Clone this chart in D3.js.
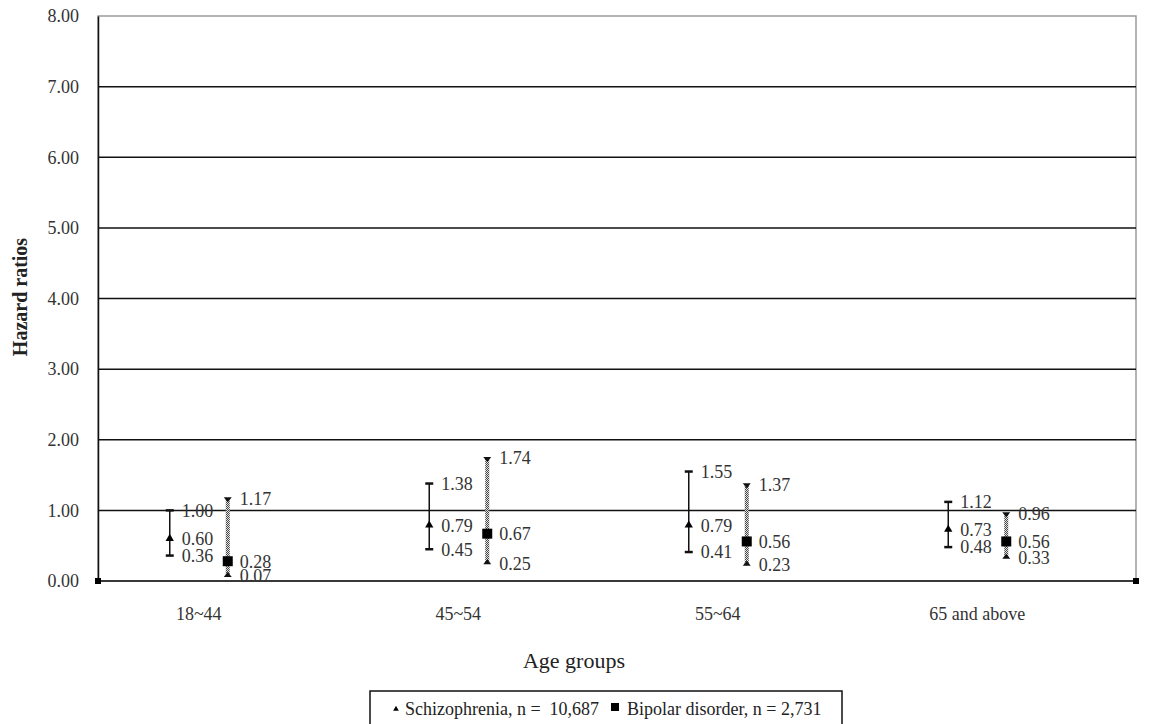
<!DOCTYPE html>
<html>
<head>
<meta charset="utf-8">
<script src="https://d3js.org/d3.v7.min.js"></script>
<style>
  body { margin: 0; background: #fff; }
  text { font-family: "Liberation Serif", "Times New Roman", serif; }
</style>
</head>
<body>
<div id="chart"></div>
<script>
var ageGroups = ['18~44', '45~54', '55~64', '65 and above'];
var schizoHR = [0.60, 0.79, 0.79, 0.73];
var schizoLow = [0.36, 0.45, 0.41, 0.48];
var schizoHigh = [1.00, 1.38, 1.55, 1.12];
var bipolarHR = [0.28, 0.67, 0.56, 0.56];
var bipolarLow = [0.07, 0.25, 0.23, 0.33];
var bipolarHigh = [1.17, 1.74, 1.37, 0.96];
var yTicks = [0, 1, 2, 3, 4, 5, 6, 7, 8];
var legendLabels = ['Schizophrenia, n =  10,687', 'Bipolar disorder, n = 2,731'];

var width = 1149;
var height = 724;
var plotL = 98, plotR = 1136, plotT = 16, plotB = 581;

var svg = d3.select('#chart')
  .append('svg')
  .attr('width', width)
  .attr('height', height);

var defs = svg.append('defs');
var pat = defs.append('pattern')
  .attr('id', 'checker')
  .attr('width', 2).attr('height', 2)
  .attr('patternUnits', 'userSpaceOnUse');
pat.append('rect').attr('width', 2).attr('height', 2).attr('fill', '#e4e4e4');
pat.append('rect').attr('width', 1).attr('height', 1).attr('fill', '#444');
pat.append('rect').attr('x', 1).attr('y', 1).attr('width', 1).attr('height', 1).attr('fill', '#444');

var x = d3.scaleBand()
  .domain(ageGroups)
  .range([plotL, plotR]);

var y = d3.scaleLinear()
  .domain([0, 8])
  .range([plotB, plotT]);

// offsets from band centre (the excel chart is shifted left)
var schizoOff = -58, bipolarOff = 0, labelOff = -29;
function cx(d) { return x(d) + x.bandwidth() / 2; }

// frame
svg.append('rect')
  .attr('x', plotL).attr('y', plotT)
  .attr('width', plotR - plotL).attr('height', plotB - plotT)
  .attr('fill', 'none')
  .attr('stroke', '#9a9a9a')
  .attr('stroke-width', 1.5);

// gridlines
svg.append('g')
  .selectAll('line')
  .data(yTicks.filter(function(t) { return t > 0 && t < 8; }))
  .enter()
  .append('line')
  .attr('x1', plotL).attr('x2', plotR)
  .attr('y1', function(d) { return y(d); })
  .attr('y2', function(d) { return y(d); })
  .attr('stroke', '#111')
  .attr('stroke-width', 1.5);

// y axis
var yAxis = d3.axisLeft(y)
  .tickValues(yTicks)
  .tickSize(0)
  .tickPadding(19)
  .tickFormat(d3.format('.2f'));

var gy = svg.append('g')
  .attr('transform', 'translate(' + plotL + ',0)')
  .call(yAxis);
gy.select('.domain').attr('stroke', '#111').attr('stroke-width', 1.5);
gy.selectAll('text')
  .attr('font-size', 18)
  .attr('font-family', '"Liberation Serif", serif')
  .attr('fill', '#333');

// x axis line
svg.append('line')
  .attr('x1', plotL).attr('x2', plotR)
  .attr('y1', y(0)).attr('y2', y(0))
  .attr('stroke', '#111')
  .attr('stroke-width', 1.5);

svg.selectAll('.corner')
  .data([plotL, plotR])
  .enter()
  .append('rect')
  .attr('x', function(d) { return d - 3; })
  .attr('y', y(0) - 3)
  .attr('width', 6).attr('height', 6)
  .attr('fill', '#000');

// x labels
svg.append('g')
  .selectAll('text')
  .data(ageGroups)
  .enter()
  .append('text')
  .attr('x', function(d) { return cx(d) + labelOff; })
  .attr('y', 620)
  .attr('text-anchor', 'middle')
  .attr('font-size', 18)
  .attr('fill', '#333')
  .text(function(d) { return d; });

// axis titles
svg.append('text')
  .attr('transform', 'translate(27,297) rotate(-90)')
  .attr('text-anchor', 'middle')
  .attr('font-size', 20)
  .attr('font-weight', 'bold')
  .attr('fill', '#222')
  .text('Hazard ratios');

svg.append('text')
  .attr('x', 574).attr('y', 668)
  .attr('text-anchor', 'middle')
  .attr('font-size', 22)
  .attr('fill', '#222')
  .text('Age groups');

// schizophrenia error bars
var sz = svg.append('g');
ageGroups.forEach(function(g, i) {
  var xx = cx(g) + schizoOff;
  sz.append('line')
    .attr('x1', xx).attr('x2', xx)
    .attr('y1', y(schizoLow[i])).attr('y2', y(schizoHigh[i]))
    .attr('stroke', '#111').attr('stroke-width', 1.5);
  [schizoLow[i], schizoHigh[i]].forEach(function(v) {
    sz.append('line')
      .attr('x1', xx - 4).attr('x2', xx + 4)
      .attr('y1', y(v)).attr('y2', y(v))
      .attr('stroke', '#111').attr('stroke-width', 2.5);
  });
  sz.append('path')
    .attr('d', d3.symbol().type(d3.symbolTriangle).size(30)())
    .attr('transform', 'translate(' + xx + ',' + y(schizoHR[i]) + ')')
    .attr('fill', '#000');
  [schizoHigh[i], schizoHR[i], schizoLow[i]].forEach(function(v) {
    sz.append('text')
      .attr('x', xx + 12)
      .attr('y', y(v))
      .attr('dy', '0.35em')
      .attr('font-size', 18)
      .attr('fill', '#333')
      .text(d3.format('.2f')(v));
  });
});

// bipolar error bars
var bp = svg.append('g');
ageGroups.forEach(function(g, i) {
  var xx = cx(g) + bipolarOff;
  var y1 = y(bipolarHigh[i]), y0 = y(bipolarLow[i]);
  bp.append('rect')
    .attr('x', xx - 2).attr('y', y1)
    .attr('width', 4).attr('height', y0 - y1)
    .attr('fill', 'url(#checker)');
  bp.append('path')
    .attr('d', 'M' + (xx - 4) + ',' + (y1 - 1) + 'H' + (xx + 4) + 'L' + xx + ',' + (y1 + 4) + 'Z')
    .attr('fill', '#111');
  bp.append('path')
    .attr('d', 'M' + (xx - 4) + ',' + (y0 + 1) + 'H' + (xx + 4) + 'L' + xx + ',' + (y0 - 4) + 'Z')
    .attr('fill', '#111');
  bp.append('rect')
    .attr('x', xx - 5).attr('y', y(bipolarHR[i]) - 5)
    .attr('width', 10).attr('height', 10)
    .attr('fill', '#000');
  [bipolarHigh[i], bipolarHR[i], bipolarLow[i]].forEach(function(v) {
    bp.append('text')
      .attr('x', xx + 12)
      .attr('y', y(v))
      .attr('dy', '0.35em')
      .attr('font-size', 18)
      .attr('fill', '#333')
      .text(d3.format('.2f')(v));
  });
});

// legend
var lg = svg.append('g');
lg.append('rect')
  .attr('x', 370).attr('y', 691)
  .attr('width', 472).attr('height', 40)
  .attr('fill', '#fff')
  .attr('stroke', '#111')
  .attr('stroke-width', 1.5);
lg.append('path')
  .attr('d', d3.symbol().type(d3.symbolTriangle).size(14)())
  .attr('transform', 'translate(396,709)')
  .attr('fill', '#000');
lg.append('text')
  .attr('x', 405).attr('y', 715)
  .attr('font-size', 18)
  .attr('fill', '#222')
  .attr('xml:space', 'preserve')
  .style('white-space', 'pre')
  .text(legendLabels[0]);
lg.append('rect')
  .attr('x', 611).attr('y', 703)
  .attr('width', 8).attr('height', 8)
  .attr('fill', '#000');
lg.append('text')
  .attr('x', 627).attr('y', 715)
  .attr('font-size', 18)
  .attr('fill', '#222')
  .text(legendLabels[1]);
</script>
</body>
</html>
